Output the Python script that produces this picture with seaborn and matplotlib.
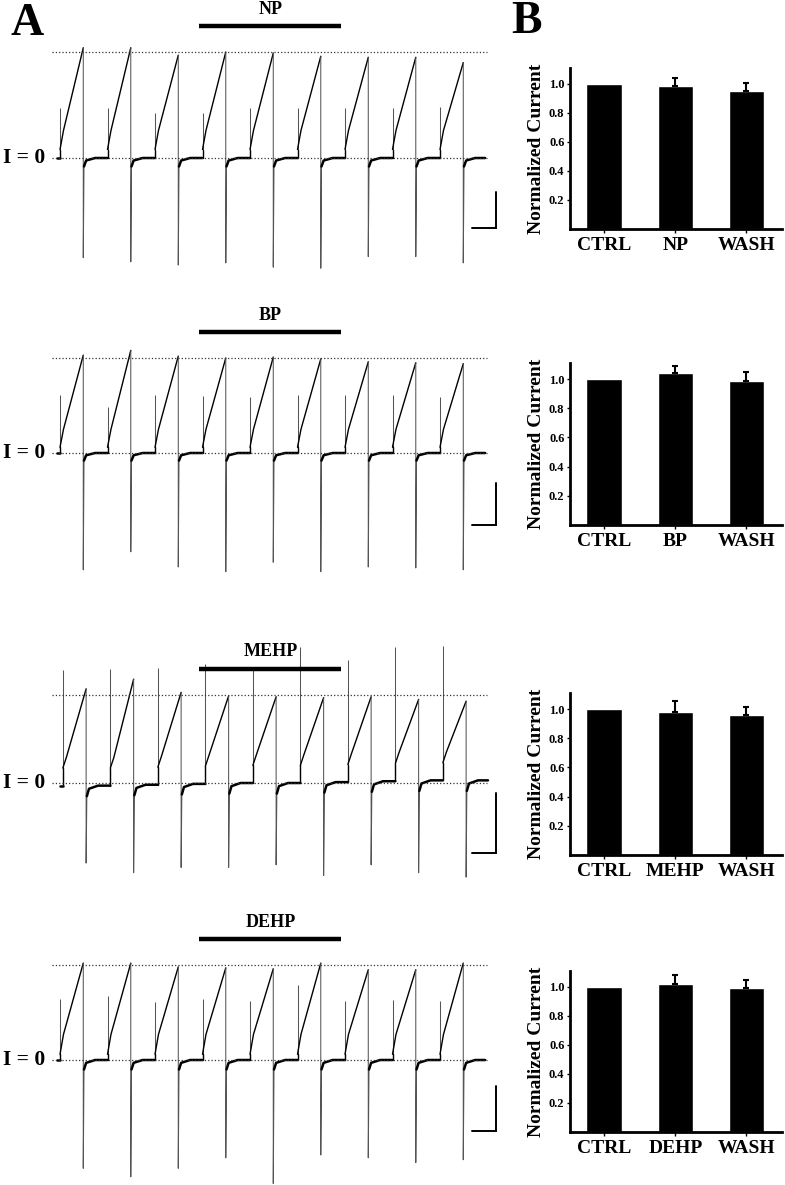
import matplotlib
matplotlib.use("Agg")
import matplotlib.pyplot as plt
import seaborn as sns

# ---- panel A: readings per sweep (9 sweeps), normalised so the dotted peak line = 1
DRUGS = ["NP", "BP", "MEHP", "DEHP"]

NP_PEAK = [1.04, 1.04, 0.97, 1.00, 0.99, 0.96, 0.95, 0.95, 0.90]
NP_TAIL = [-0.94, -0.98, -1.01, -0.99, -1.03, -1.04, -0.93, -0.93, -0.99]
NP_SPIKE = [0.47, 0.47, 0.42, 0.42, 0.47, 0.47, 0.47, 0.47, 0.48]
NP_BASE = [0.0, 0.0, 0.0, 0.0, 0.0, 0.0, 0.0, 0.0, 0.0, 0.0]

BP_PEAK = [1.03, 1.08, 1.02, 1.00, 1.01, 0.99, 0.96, 0.95, 0.94]
BP_TAIL = [-1.23, -1.04, -1.20, -1.25, -1.15, -1.25, -1.20, -1.21, -1.23]
BP_SPIKE = [0.61, 0.48, 0.61, 0.60, 0.59, 0.61, 0.61, 0.61, 0.59]
BP_BASE = [0.0, 0.0, 0.0, 0.0, 0.0, 0.0, 0.0, 0.0, 0.0, 0.0]

MEHP_PEAK = [1.07, 1.18, 1.03, 0.99, 0.98, 0.97, 0.98, 0.95, 0.93]
MEHP_TAIL = [-0.91, -1.02, -0.96, -0.96, -0.93, -1.05, -0.93, -1.02, -1.07]
MEHP_SPIKE = [1.31, 1.32, 1.33, 1.36, 1.30, 1.55, 1.39, 1.53, 1.53]
MEHP_BASE = [-0.03, -0.03, -0.02, -0.01, 0.0, 0.0, 0.01, 0.02, 0.03, 0.03]

DEHP_PEAK = [1.02, 1.02, 0.98, 0.97, 0.96, 1.02, 0.95, 0.95, 1.02]
DEHP_TAIL = [-1.14, -1.23, -1.14, -1.03, -1.30, -1.00, -1.03, -1.08, -1.05]
DEHP_SPIKE = [0.64, 0.67, 0.61, 0.64, 0.62, 0.79, 0.62, 0.63, 0.62]
DEHP_BASE = [0.0, 0.0, 0.0, 0.0, 0.0, 0.0, 0.0, 0.0, 0.0, 0.0]

# ramp start level and level shortly after the ramp starts
RAMP_START = [0.08, 0.06, 0.20, 0.06]
RAMP_KNEE = [0.26, 0.25, 0.32, 0.27]
TAIL_DIP = [0.08, 0.08, 0.12, 0.10]

# scale bars (vertical extent, trace units)
SCALE_TOP = [-0.32, -0.32, -0.11, -0.27]
SCALE_BOT = [-0.66, -0.76, -0.80, -0.75]

# ---- panel B: normalized current
CONDITIONS = [["CTRL", "NP", "WASH"], ["CTRL", "BP", "WASH"],
              ["CTRL", "MEHP", "WASH"], ["CTRL", "DEHP", "WASH"]]
NORM_MEAN = [[1.0, 0.985, 0.95], [1.0, 1.04, 0.99],
             [1.0, 0.98, 0.96], [1.0, 1.02, 0.99]]
NORM_ERR = [[0.0, 0.055, 0.055], [0.0, 0.05, 0.055],
            [0.0, 0.075, 0.055], [0.0, 0.065, 0.055]]

TRACES = [
    (NP_PEAK, NP_TAIL, NP_SPIKE, NP_BASE),
    (BP_PEAK, BP_TAIL, BP_SPIKE, BP_BASE),
    (MEHP_PEAK, MEHP_TAIL, MEHP_SPIKE, MEHP_BASE),
    (DEHP_PEAK, DEHP_TAIL, DEHP_SPIKE, DEHP_BASE),
]

# layout in figure pixels: (top, bottom, baseline, px per unit)
W, H = 785, 1185
TRACE_ROWS = [(0, 290, 158, 106), (290, 590, 453, 95), (620, 890, 783, 88), (905, 1185, 1060, 95)]
BAR_ROWS = [(68, 229), (363, 525), (693, 855), (971, 1132)]
TREAT_LEVEL = [1.245, 1.274, 1.295, 1.274]
LABEL_GAP = [8.5, 8.5, 9.5, 8.5]
SWEEP_SHIFT = [0.0, 0.0, 0.06, 0.0]
PERIOD_PX, X0_PX, TRACE_W = 47.5, 60, 505

sns.set_theme(style="white")
plt.rcParams["font.family"] = ["Liberation Serif", "DejaVu Serif"]
plt.rcParams["font.weight"] = "bold"
for key in ("text.color", "axes.labelcolor", "xtick.color", "ytick.color"):
    plt.rcParams[key] = "black"

fig = plt.figure(figsize=(W / 100, H / 100), dpi=100)


def draw_trace(ax, row):
    peak, tail, spike, base = TRACES[row]
    shift = SWEEP_SHIFT[row]
    dur = 0.49
    dip = TAIL_DIP[row]
    thin = dict(color="#555555", lw=0.75, solid_capstyle="butt")
    thick = dict(color="black", lw=1.8)
    ramp_kw = dict(color="black", lw=1.0)

    s0 = shift
    ax.plot([s0 - 0.06, s0], [base[0], base[0]], **thick)
    for k in range(len(peak)):
        s = k + shift
        p = s + dur
        b = base[k]
        # capacitive transient
        ax.plot([s, s], [b, b + spike[k]], **thin)
        ax.plot([s, s], [b, b + RAMP_START[row]], **ramp_kw)
        # ramp
        ax.plot([s, s + 0.15 * dur, p],
                [b + RAMP_START[row], b + RAMP_KNEE[row], peak[k]], **ramp_kw)
        nb = base[k + 1]
        # tail current
        ax.plot([p, p, p + 0.015], [peak[k], tail[k], nb - dip], **thin)
        end = k + 1 + shift if k < len(peak) - 1 else p + 0.46
        ax.plot([p + 0.015, p + 0.06, p + 0.25, end],
                [nb - dip, nb - 0.3 * dip, nb, nb], **thick)

    # reference lines
    ax.plot([-0.17, 8.99], [0, 0], ls=":", color="#333333", lw=0.9)
    ax.plot([-0.17, 8.99], [1, 1], ls=":", color="#333333", lw=0.9)
    ax.text(-0.32, 0, "I = 0", ha="right", va="center", fontsize=15.5, fontweight="bold")

    # drug application bar
    lvl = TREAT_LEVEL[row]
    ax.plot([2.93, 5.92], [lvl, lvl], color="black", lw=3.2, solid_capstyle="butt")
    ax.annotate(DRUGS[row], xy=(4.43, lvl), xytext=(0, LABEL_GAP[row]),
                textcoords="offset points", ha="center", va="baseline",
                fontsize=13, fontweight="bold")

    # scale bar
    ax.plot([8.67, 9.18, 9.18], [SCALE_BOT[row], SCALE_BOT[row], SCALE_TOP[row]],
            color="black", lw=1.4, solid_joinstyle="miter")


for row in range(4):
    top, bot, base_px, unit = TRACE_ROWS[row]
    ax = fig.add_axes([0, 1 - bot / H, TRACE_W / W, (bot - top) / H])
    ax.set_xlim((0 - X0_PX) / PERIOD_PX, (TRACE_W - X0_PX) / PERIOD_PX)
    ax.set_ylim((base_px - bot) / unit, (base_px - top) / unit)
    ax.axis("off")
    draw_trace(ax, row)

    btop, bbot = BAR_ROWS[row]
    bx = fig.add_axes([570 / W, 1 - bbot / H, 212 / W, (bbot - btop) / H])
    sns.barplot(x=CONDITIONS[row], y=NORM_MEAN[row], color="black", width=0.5,
                saturation=1, ax=bx)
    idx = [i for i, e in enumerate(NORM_ERR[row]) if e > 0]
    bx.errorbar(idx, [NORM_MEAN[row][i] for i in idx],
                yerr=[[0] * len(idx), [NORM_ERR[row][i] for i in idx]],
                fmt="none", ecolor="black", elinewidth=1.5, capsize=2.5, capthick=1.5)
    bx.set_xlim(-0.48, 2.5)
    bx.set_ylim(0, 1.11)
    bx.set_yticks([0.2, 0.4, 0.6, 0.8, 1.0])
    bx.set_yticklabels(["0.2", "0.4", "0.6", "0.8", "1.0"], fontsize=9, fontweight="bold")
    bx.set_xticks(range(3))
    bx.set_xticklabels(CONDITIONS[row], fontsize=14, fontweight="bold")
    bx.set_ylabel("Normalized Current", fontsize=14, fontweight="bold", labelpad=3)
    sns.despine(ax=bx)
    for side in ("left", "bottom"):
        bx.spines[side].set_linewidth(2)
        bx.spines[side].set_color("black")
    bx.tick_params(axis="x", length=3, width=1, pad=3, bottom=True)
    bx.tick_params(axis="y", length=2, width=1, pad=2, left=True)

fig.text(27 / W, 1 - 35 / H, "A", ha="center", va="baseline", fontsize=33, fontweight="bold")
fig.text(527 / W, 1 - 33 / H, "B", ha="center", va="baseline", fontsize=33, fontweight="bold")

fig.savefig("out.png", dpi=100)
